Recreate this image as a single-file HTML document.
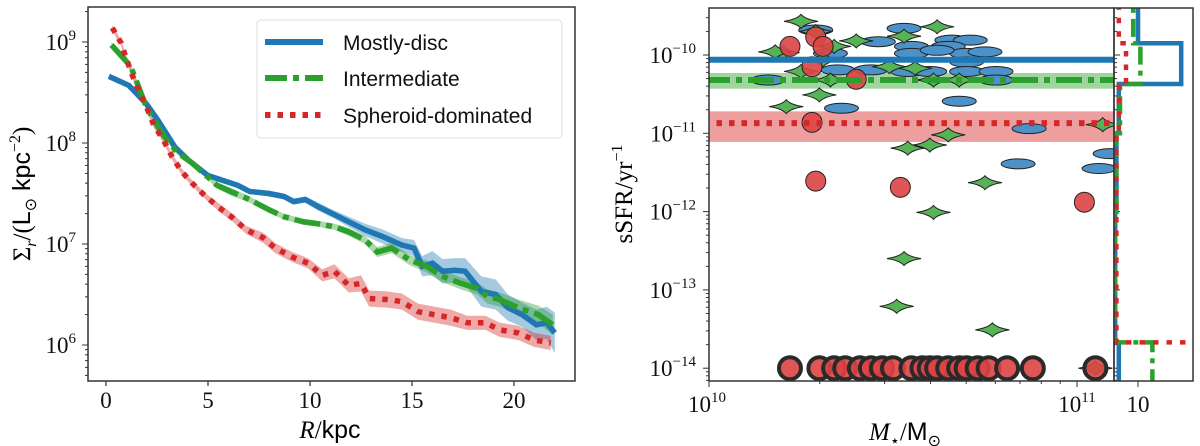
<!DOCTYPE html>
<html><head><meta charset="utf-8">
<style>
html,body{margin:0;padding:0;background:#fff;}
svg{display:block;font-family:"Liberation Serif",serif;}
.tk{font-size:23px;fill:#111;}
.lg{font-family:"Liberation Sans",sans-serif;font-size:21px;fill:#111;}
</style></head>
<body>
<svg id="fig" width="1200" height="446" viewBox="0 0 1200 446">
<defs>
<clipPath id="clipL"><rect x="88" y="7" width="487" height="374"/></clipPath>
<clipPath id="clipR"><rect x="709" y="8" width="405" height="373"/></clipPath>
<clipPath id="clipH"><rect x="1114" y="8" width="79" height="373"/></clipPath>
</defs>
<g id="left"></g>
<g id="right"></g>
<g id="hist"></g>
</svg>
<script>
// ---------- LEFT PANEL DATA ----------
const blueR=[0.14,1.12,1.97,2.53,3.38,4.04,4.98,5.72,6.47,7.04,7.98,8.73,9.2,9.77,10.4,11.2,11.9,12.7,13.6,14.5,15.1,15.5,16.0,16.5,17.1,17.6,18.4,19.1,19.7,20.4,21.1,21.6,22.0];
const blueLog=[8.66,8.57,8.39,8.23,7.96,7.83,7.68,7.63,7.58,7.52,7.50,7.47,7.42,7.44,7.37,7.29,7.22,7.14,7.07,6.99,6.96,6.78,6.81,6.73,6.74,6.73,6.53,6.50,6.37,6.30,6.20,6.22,6.12];
const blueErr=[0.02,0.02,0.02,0.02,0.02,0.02,0.02,0.02,0.02,0.02,0.03,0.03,0.03,0.03,0.04,0.04,0.05,0.06,0.07,0.07,0.08,0.1,0.12,0.12,0.12,0.13,0.15,0.15,0.13,0.12,0.15,0.16,0.2];
const greenR=[0.27,1.21,1.97,2.72,3.47,4.23,5.45,6.11,7.04,7.98,8.73,9.67,10.4,11.2,11.9,12.7,13.3,14.0,14.9,15.7,16.5,17.4,18.2,18.7,19.3,20.2,21.2,21.9];
const greenLog=[8.97,8.76,8.36,8.10,7.91,7.80,7.58,7.52,7.44,7.34,7.27,7.22,7.20,7.17,7.12,7.04,6.92,6.96,6.84,6.78,6.68,6.61,6.56,6.48,6.45,6.37,6.30,6.20];
const greenErr=[0.03,0.03,0.02,0.02,0.02,0.02,0.03,0.04,0.03,0.03,0.03,0.03,0.03,0.03,0.04,0.04,0.05,0.05,0.05,0.06,0.06,0.06,0.06,0.07,0.07,0.08,0.09,0.1];
const redR=[0.31,0.74,1.02,1.31,1.68,2.0,2.34,2.81,3.25,3.7,4.23,4.89,5.55,6.21,6.87,7.72,8.29,9.14,9.9,10.6,11.2,11.9,12.5,12.9,13.8,14.5,15.3,16.1,16.9,17.7,18.6,19.3,20.2,21.0,21.8];
const redLog=[9.14,8.99,8.82,8.66,8.49,8.35,8.18,8.03,7.86,7.72,7.60,7.47,7.36,7.26,7.14,7.06,6.96,6.87,6.81,6.69,6.73,6.59,6.61,6.46,6.45,6.43,6.33,6.30,6.27,6.22,6.22,6.15,6.12,6.05,6.02];
const redErr=[0.03,0.03,0.03,0.03,0.03,0.03,0.03,0.03,0.03,0.03,0.03,0.03,0.04,0.04,0.04,0.05,0.05,0.05,0.05,0.06,0.07,0.07,0.08,0.08,0.08,0.08,0.08,0.08,0.08,0.07,0.07,0.07,0.07,0.07,0.07];
const xTicksL=[0,5,10,15,20];
const yTicksL=[6,7,8,9];

// ---------- RIGHT PANEL DATA ----------
const discM=[10.53,10.29,10.46,10.55,10.66,10.71,10.65,10.55,10.70,10.62,10.75,10.70,10.44,10.54,10.70,10.78,10.36,10.68,10.87,10.84,11.06,11.09,10.33,10.16,10.78,10.35,10.60];
const discS=[-9.66,-9.68,-9.83,-9.89,-9.81,-9.81,-9.89,-9.98,-9.98,-9.94,-9.96,-10.09,-10.19,-10.21,-10.21,-10.21,-10.68,-10.59,-10.94,-11.39,-11.45,-11.26,-9.98,-10.32,-10.32,-10.19,-10.21];
const interM=[10.25,10.29,10.20,10.40,10.53,10.62,10.34,10.25,10.49,10.56,10.30,10.21,10.33,10.61,10.68,11.07,10.65,10.60,10.54,10.75,10.61,10.53,10.51,10.77,10.31,10.18,11.05,10.62];
const interS=[-9.57,-9.70,-9.97,-9.82,-9.76,-9.64,-9.89,-10.21,-10.15,-10.17,-10.51,-10.66,-10.32,-10.32,-10.32,-10.89,-11.02,-11.15,-11.19,-11.63,-12.01,-12.60,-13.21,-13.51,-10.06,-9.96,-14.0,-14.0];
const sphM=[10.22,10.29,10.31,10.28,10.40,10.28,10.29,10.52,11.02,10.22,10.30,10.34,10.37,10.41,10.44,10.47,10.50,10.55,10.58,10.60,10.62,10.65,10.68,10.70,10.73,10.76,10.81,10.88,11.05];
const sphS=[-9.89,-9.77,-9.89,-10.15,-10.31,-10.86,-11.61,-11.69,-11.88,-14,-14,-14,-14,-14,-14,-14,-14,-14,-14,-14,-14,-14,-14,-14,-14,-14,-14,-14,-14];
const medS=[-10.06,-10.32,-10.87];
const medLo=[-10.06,-10.43,-11.11];
const medHi=[-10.06,-10.23,-10.72];
const yTicksR=[-10,-11,-12,-13,-14];
const xTicksR=[10,11];
// histogram
const histEdges=[-14.2,-13.67,-12.0,-11.0,-10.37,-9.85,-9.3];
const histDisc=[2,0.5,1,2,28,10];
const histInter=[16,0.5,1,2.5,11,8];
const histSph=[40,1,1,2,5,2];

const NS='http://www.w3.org/2000/svg';
function mk(tag,attrs,parent){const e=document.createElementNS(NS,tag);for(const k in attrs)e.setAttribute(k,attrs[k]);parent.appendChild(e);return e;}
const C={b:'#1f77b4',g:'#2ca02c',r:'#d62728'};

// ----- left scales
const xL=r=>106+r*20.4;
const yL=v=>42+(9-v)*101;
const L=document.getElementById('left');
const gl=mk('g',{'clip-path':'url(#clipL)'},L);
function band(R,V,E,col,name){
  let d='M'+R.map((r,i)=>xL(r)+','+yL(V[i]+E[i])).join('L');
  d+='L'+R.map((r,i)=>[r,i]).reverse().map(([r,i])=>xL(r)+','+yL(V[i]-E[i])).join('L')+'Z';
  const p=mk('path',{d:d,fill:col,'fill-opacity':0.4,stroke:'none'},gl);
  
  
}
function line(R,V,col,dash,name){
  const p=mk('path',{d:'M'+R.map((r,i)=>xL(r)+','+yL(V[i])).join('L'),fill:'none',stroke:col,'stroke-width':5.5,'stroke-dasharray':dash},gl);
  
  
}
band(blueR,blueLog,blueErr,C.b,'disc-band');
band(greenR,greenLog,greenErr,C.g,'intermediate-band');
band(redR,redLog,redErr,C.r,'spheroid-band');
line(blueR,blueLog,C.b,'none','disc-line');
line(greenR,greenLog,C.g,'26,6,6,6','intermediate-line');
line(redR,redLog,C.r,'5.5,7','spheroid-line');
mk('rect',{x:88,y:7,width:487,height:374,fill:'none',stroke:'#333','stroke-width':1.5},L);
xTicksL.forEach(t=>{mk('line',{x1:xL(t),x2:xL(t),y1:381,y2:386,stroke:'#333','stroke-width':1.2},L);
  const tx=mk('text',{x:xL(t),y:408,'text-anchor':'middle',class:'tk'},L);tx.textContent=t;
  
  });
for(let dec=5;dec<=9;dec++){for(let m=1;m<10;m++){const v=dec+Math.log10(m);const y=yL(v);if(y<7||y>381)continue;
  mk('line',{x1:88,x2:m==1?82:85,y1:y,y2:y,stroke:'#333','stroke-width':1},L);}}
yTicksL.forEach(t=>{const tx=mk('text',{x:76,y:yL(t)+8,'text-anchor':'end',class:'tk'},L);
  tx.innerHTML='10<tspan dy="-10" font-size="15">'+t+'</tspan>';
  
  });
let t=mk('text',{x:330,y:438,'text-anchor':'middle','font-size':25},L);
t.innerHTML='<tspan font-style="italic">R</tspan>/<tspan font-family="Liberation Sans">kpc</tspan>';


t=mk('text',{x:0,y:0,'text-anchor':'middle','font-size':25,transform:'translate(30,194) rotate(-90)'},L);
t.innerHTML='Σ<tspan font-style="italic" font-size="16" dy="6">r</tspan><tspan dy="-6">/(</tspan><tspan font-family="Liberation Sans">L</tspan><tspan font-size="16" dy="6">⊙</tspan><tspan font-family="Liberation Sans" dy="-6"> kpc</tspan><tspan font-size="16" dy="-10">−2</tspan><tspan dy="10">)</tspan>';


// legend
const lg=mk('g',{},L);


mk('rect',{x:257,y:20,width:305,height:118,rx:4,fill:'#fff','fill-opacity':0.85,stroke:'#ddd'},lg);
[['Mostly-disc',C.b,'none',42],['Intermediate',C.g,'22,6,6,6',78],['Spheroid-dominated',C.r,'5.5,7',115]].forEach(([n,c,d,y])=>{
  mk('line',{x1:265,x2:323,y1:y,y2:y,stroke:c,'stroke-width':6,'stroke-dasharray':d},lg);
  const tx=mk('text',{x:343,y:y+8,class:'lg'},lg);tx.textContent=n;
  
  
});

// ----- right scales
const xR=m=>709+(m-10)*368;
const yR=s=>55+(-10-s)*78.3;
const R=document.getElementById('right');
const gr=mk('g',{'clip-path':'url(#clipR)'},R);
const medCols=[C.b,C.g,C.r], medDash=['none','26,6,6,6','5.5,7'];
medS.forEach((s,i)=>{
  if(medHi[i]!==medLo[i]){const b=mk('rect',{x:704,y:yR(medHi[i]),width:420,height:yR(medLo[i])-yR(medHi[i]),fill:medCols[i],'fill-opacity':0.45},gr);
    
    }
});
const star='M-17,0 Q-4,-2 0,-7 Q4,-2 17,0 Q4,2 0,7 Q-4,2 -17,0Z';
discM.forEach((m,i)=>{const e=mk('ellipse',{cx:xR(m),cy:yR(discS[i]),rx:17,ry:5,fill:'#4c91c7',stroke:'#222','stroke-width':1},gr);
  
  });
interM.forEach((m,i)=>{const e=mk('path',{d:star,transform:'translate('+xR(m)+','+yR(interS[i])+')',fill:'#56b356',stroke:'#222','stroke-width':1},gr);
  
  });
sphM.forEach((m,i)=>{const q=sphS[i]<=-13.9;const e=mk('circle',{cx:xR(m),cy:yR(sphS[i]),r:q?11:10,fill:'#dd4444','fill-opacity':0.9,stroke:q?'#2a2a2a':'#222','stroke-width':q?4:1},gr);
  
  });
medS.forEach((s,i)=>{const l=mk('line',{x1:704,x2:1114,y1:yR(s),y2:yR(s),stroke:medCols[i],'stroke-width':6,'stroke-dasharray':medDash[i]},gr);
  
  });
mk('rect',{x:709,y:8,width:405,height:373,fill:'none',stroke:'#333','stroke-width':1.5},R);
for(let dec=-15;dec<=-9;dec++){for(let m=1;m<10;m++){const v=dec+Math.log10(m);const y=yR(v);if(y<8||y>381)continue;
  mk('line',{x1:709,x2:m==1?703:706,y1:y,y2:y,stroke:'#333','stroke-width':1},R);
  mk('line',{x1:1114,x2:m==1?1120:1117,y1:y,y2:y,stroke:'#333','stroke-width':1},R);}}
yTicksR.forEach(tv=>{const tx=mk('text',{x:696,y:yR(tv)+8,'text-anchor':'end',class:'tk'},R);
  tx.innerHTML='10<tspan dy="-10" font-size="15">−'+(-tv)+'</tspan>';
  
  });
[1,2,3,4,5,6,7,8,9].forEach(m=>{const x=xR(10+Math.log10(m));mk('line',{x1:x,x2:x,y1:381,y2:m==1?387:384,stroke:'#333','stroke-width':1},R);});
{const x=xR(11);mk('line',{x1:x,x2:x,y1:381,y2:387,stroke:'#333','stroke-width':1},R);}
xTicksR.forEach(tv=>{const tx=mk('text',{x:xR(tv)+(tv==10?-2:0),y:412,'text-anchor':'middle',class:'tk'},R);
  tx.innerHTML='10<tspan dy="-10" font-size="15">'+tv+'</tspan>';
  
  });
t=mk('text',{x:905,y:440,'text-anchor':'middle','font-size':25},R);
t.innerHTML='<tspan font-style="italic">M</tspan><tspan font-size="16" dy="6">⋆</tspan><tspan dy="-6">/</tspan><tspan font-family="Liberation Sans">M</tspan><tspan font-size="16" dy="6">⊙</tspan>';


t=mk('text',{x:0,y:0,'text-anchor':'middle','font-size':25,transform:'translate(632,194) rotate(-90)'},R);
t.innerHTML='sSFR/yr<tspan font-size="16" dy="-10">−1</tspan>';



// ----- histogram
const H=document.getElementById('hist');
const xH=c=>1114+c*2.4;
const gh=mk('g',{'clip-path':'url(#clipH)'},H);
function step(counts,col,dash,name){
  let d='M'+xH(0)+','+yR(histEdges[0]);
  counts.forEach((c,i)=>{d+='L'+xH(c)+','+yR(histEdges[i])+'L'+xH(c)+','+yR(histEdges[i+1]);});
  d+='L'+xH(0)+','+yR(histEdges[histEdges.length-1]);
  const p=mk('path',{d:d,fill:'none',stroke:col,'stroke-width':4.5,'stroke-dasharray':dash},gh);
  
  
}
step(histDisc,C.b,'none','disc-histogram');
step(histInter,C.g,'18,6,5,6','intermediate-histogram');
step(histSph,C.r,'5.5,8','spheroid-histogram');
mk('rect',{x:1114,y:8,width:79,height:373,fill:'none',stroke:'#333','stroke-width':1.5},H);
mk('line',{x1:xH(10),x2:xH(10),y1:381,y2:387,stroke:'#333','stroke-width':1},H);
t=mk('text',{x:xH(10),y:412,'text-anchor':'middle',class:'tk'},H);t.textContent='10';


</script>
</body></html>
